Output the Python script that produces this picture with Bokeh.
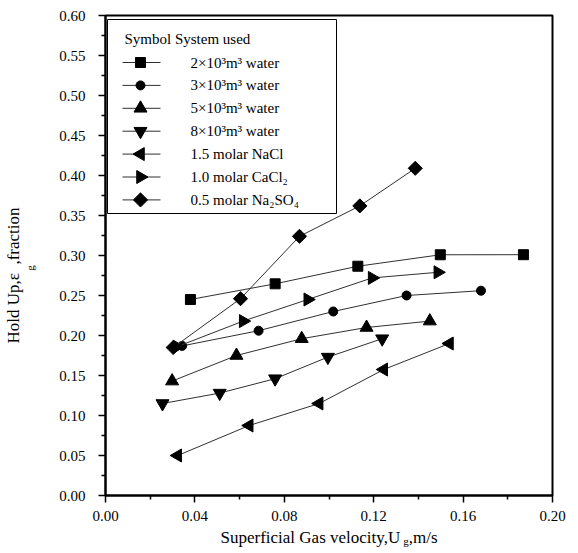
import numpy as np
from bokeh.plotting import figure
from bokeh.models import (FixedTicker, PrintfTickFormatter, Label, Range1d, BoxAnnotation, Title,
                          LinearAxis)
from bokeh.embed import file_html
from bokeh.resources import INLINE

# ---- data ----
x_2e3 = [0.038, 0.0759, 0.1129, 0.1498, 0.187]
y_2e3 = [0.245, 0.2646, 0.2866, 0.3009, 0.301]
x_3e3 = [0.0343, 0.0685, 0.1019, 0.1347, 0.168]
y_3e3 = [0.187, 0.206, 0.230, 0.250, 0.256]
x_5e3 = [0.0298, 0.0586, 0.0878, 0.1168, 0.1451]
y_5e3 = [0.143, 0.175, 0.196, 0.210, 0.218]
x_8e3 = [0.0255, 0.0511, 0.0759, 0.0995, 0.1238]
y_8e3 = [0.115, 0.128, 0.146, 0.173, 0.196]
x_nacl = [0.0323, 0.0643, 0.0956, 0.1245, 0.1539]
y_nacl = [0.050, 0.0875, 0.115, 0.1575, 0.190]
x_cacl2 = [0.032, 0.0616, 0.0905, 0.1193, 0.1487]
y_cacl2 = [0.186, 0.218, 0.245, 0.272, 0.279]
x_na2so4 = [0.0303, 0.0604, 0.0868, 0.1138, 0.1386]
y_na2so4 = [0.185, 0.246, 0.324, 0.362, 0.409]

labels = ["2×10³m³ water", "3×10³m³ water", "5×10³m³ water", "8×10³m³ water",
          "1.5 molar NaCl", "1.0 molar CaCl₂", "0.5 molar Na₂SO₄"]
legend_title = "Symbol System used"
NB = "\u00a0\u00a0"
EM = "\u2003"
x_title = "Superficial Gas velocity,U" + NB + ",m/s"
y_title = "Hold Up,ε" + NB + ",fraction"
sub_g = "g"
x_ticks = [0.00, 0.04, 0.08, 0.12, 0.16, 0.20]
x_minor = [0.02, 0.06, 0.10, 0.14, 0.18]
y_ticks = [0.00, 0.05, 0.10, 0.15, 0.20, 0.25, 0.30, 0.35, 0.40, 0.45, 0.50, 0.55, 0.60]
y_minor = [0.025 + 0.05 * i for i in range(12)]

FONT = "Liberation Serif"
W, H = 570, 553
FL, FR, FT, FB = 105, 552, 15, 495          # frame edges in canvas pixels
X0, X1, Y0, Y1 = 0.0, 0.2, 0.0, 0.6


def px2x(px):
    return X0 + (px - FL) * (X1 - X0) / (FR - FL)


def px2y(py):
    return Y0 + (FB - py) * (Y1 - Y0) / (FB - FT)


p = figure(width=W, height=H, x_range=Range1d(X0, X1), y_range=Range1d(Y0, Y1),
           output_backend="svg", toolbar_location=None,
           min_border_left=FL, min_border_right=W - FR, min_border_top=FT, min_border_bottom=H - FB)
p.background_fill_color = "white"
p.border_fill_color = "white"
p.outline_line_color = "black"
p.outline_line_width = 2
p.xgrid.visible = False
p.ygrid.visible = False

xax = p.xaxis[0]
yax = p.yaxis[0]
for ax, t, m in ((xax, x_ticks, x_minor), (yax, y_ticks, y_minor)):
    ax.ticker = FixedTicker(ticks=t, minor_ticks=m)
    ax.formatter = PrintfTickFormatter(format="%.2f")
    ax.axis_line_color = "black"
    ax.axis_line_width = 2
    ax.major_tick_line_color = "black"
    ax.minor_tick_line_color = "black"
    ax.major_tick_line_width = 1.5
    ax.minor_tick_line_width = 1.5
    ax.major_tick_in = 0
    ax.major_tick_out = 7
    ax.minor_tick_in = 0
    ax.minor_tick_out = 4
    ax.major_label_text_font = FONT
    ax.major_label_text_font_size = "15px"
    ax.major_label_text_color = "black"
    ax.axis_label_text_font = FONT
    ax.axis_label_text_font_style = "normal"
    ax.axis_label_text_color = "black"
yax.major_label_standoff = 13
xax.major_label_standoff = 8

# x: main title on the axis
xax.axis_label = x_title
xax.axis_label_text_font_size = "17px"
xax.axis_label_standoff = 4


def sub_axis(text):
    """A bare axis that only carries the subscript 'g'."""
    return LinearAxis(ticker=FixedTicker(ticks=[]), axis_line_color=None,
                      major_tick_out=0, major_tick_in=0, minor_tick_out=0, minor_tick_in=0,
                      major_label_standoff=0, axis_label=text,
                      axis_label_text_font=FONT, axis_label_text_font_size="11px",
                      axis_label_text_font_style="normal", axis_label_text_color="black")


# subscript g of U_g: padded with em spaces so that it sits right after the "U"
gx = sub_axis(EM * 14 + sub_g)
gx.axis_label_standoff = -15
p.add_layout(gx, "below")

# subscript g of epsilon_g
gy = sub_axis(sub_g + EM * 2 + "\u00a0")
gy.axis_label_standoff = 21
p.add_layout(gy, "left")

# y: main title outside the axes
p.add_layout(Title(text=y_title, align="left", offset=152, standoff=-4, text_font=FONT,
                   text_font_size="17px", text_font_style="normal", text_color="black"), "left")

series = [
    (x_2e3, y_2e3, "square", 10, 0),
    (x_3e3, y_3e3, "circle", 9, 0),
    (x_5e3, y_5e3, "triangle", 13, 0),
    (x_8e3, y_8e3, "inverted_triangle", 13, 0),
    (x_nacl, y_nacl, "triangle", 13, np.pi / 2),
    (x_cacl2, y_cacl2, "triangle", 13, -np.pi / 2),
    (x_na2so4, y_na2so4, "square", 10, np.pi / 4),
]

LINE_COLOR = "#303030"

# ---- legend frame ----
p.add_layout(BoxAnnotation(left=px2x(107), right=px2x(336), top=px2y(19), bottom=px2y(213),
                           fill_color="white", fill_alpha=1.0, line_color="black", line_alpha=1.0,
                           line_width=1, level="underlay"))
p.add_layout(Label(x=px2x(124), y=px2y(38), text=legend_title, text_align="left",
                   text_baseline="middle", text_font=FONT, text_font_size="15px",
                   text_color="black", level="overlay"))

ROW0, PITCH = 62, 22.9
for i, ((xs, ys, mk, sz, ang), lab) in enumerate(zip(series, labels)):
    p.line(xs, ys, line_color=LINE_COLOR, line_width=1)
    p.scatter(xs, ys, marker=mk, size=sz, angle=ang, fill_color="black", line_color="black")
    ry = px2y(ROW0 + i * PITCH)
    p.line([px2x(122), px2x(160)], [ry, ry], line_color=LINE_COLOR, line_width=1)
    p.scatter([px2x(140)], [ry], marker=mk, size=sz, angle=ang, fill_color="black", line_color="black")
    p.add_layout(Label(x=px2x(190), y=ry, text=lab, text_align="left", text_baseline="middle",
                       text_font=FONT, text_font_size="15px", text_color="black", level="overlay"))

open("out.html", "w").write(file_html(p, INLINE))
